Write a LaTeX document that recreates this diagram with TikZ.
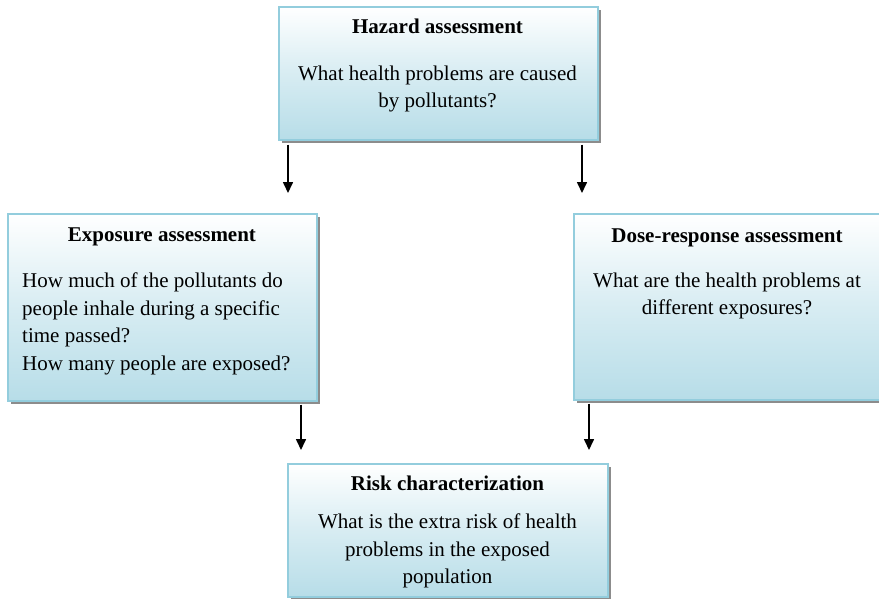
\documentclass[tikz,border=0pt]{standalone}
\usepackage{fontspec}
\setmainfont{Liberation Serif}
\usepackage{tikz}
\usetikzlibrary{arrows.meta,positioning,shadows}
\definecolor{RAEdge}{HTML}{93CDDD}
\definecolor{RAFill}{HTML}{B7DDE8}
\definecolor{RAShadow}{HTML}{8C8C8C}

\begin{document}
\begin{tikzpicture}[
    x=1pt, y=-1pt,
    box/.style={draw=RAEdge, line width=1.5pt, anchor=north west, inner sep=0pt,
      top color=white, bottom color=RAFill, middle color=RAFill!55,
      drop shadow={shadow xshift=3pt, shadow yshift=-3pt, fill=RAShadow, opacity=1}},
    title/.style={anchor=base, inner sep=0pt, font=\fontsize{21}{27.7}\selectfont\bfseries},
    body/.style={anchor=north, inner sep=0pt, align=center, font=\fontsize{21}{27.7}\selectfont},
    arrow/.style={-{Triangle[length=11pt,width=10pt]}, line width=1.6pt, draw=black}
  ]
    \useasboundingbox (0,0) rectangle (879,598);

    \node[box, minimum width=319pt, minimum height=133pt] (hazard) at (278,6) {};
    \node[box, minimum width=309pt, minimum height=187pt] (expo) at (7,213) {};
    \node[box, minimum width=306pt, minimum height=186pt] (dose) at (573,213) {};
    \node[box, minimum width=320pt, minimum height=133pt] (risk) at (287,463) {};

    \node[title] (hazardT) at (437.5,33) {Hazard assessment};
    \node[body] (hazardB) at (437.5,65.5) {What health problems are caused\\by pollutants?};

    \node[title] (expoT) at (162,241) {Exposure assessment};
    \node[body, anchor=north west, align=left] (expoB) at (22,272.5)
      {How much of the pollutants do\\people inhale during a specific\\time passed?\\How many people are exposed?};

    \node[title] (doseT) at (727,242) {Dose-response assessment};
    \node[body] (doseB) at (727,272.5) {What are the health problems at\\different exposures?};

    \node[title] (riskT) at (447.5,490) {Risk characterization};
    \node[body] (riskB) at (447.5,513.5) {What is the extra risk of health\\problems in the exposed\\population};

    \draw[arrow, shorten >=20pt] ([xshift=10pt,yshift=-4pt]hazard.south west) -- ([xshift=10pt]hazard.south west |- expo.north);
    \draw[arrow, shorten >=20pt] ([xshift=-16.5pt,yshift=-4pt]hazard.south east) -- ([xshift=-16.5pt]hazard.south east |- dose.north);
    \draw[arrow, shorten >=13pt] ([xshift=-16.5pt,yshift=-3pt]expo.south east) -- ([xshift=-16.5pt]expo.south east |- risk.north);
    \draw[arrow, shorten >=13pt] ([xshift=16pt,yshift=-3pt]dose.south west) -- ([xshift=16pt]dose.south west |- risk.north);
  \end{tikzpicture}
\end{document}
